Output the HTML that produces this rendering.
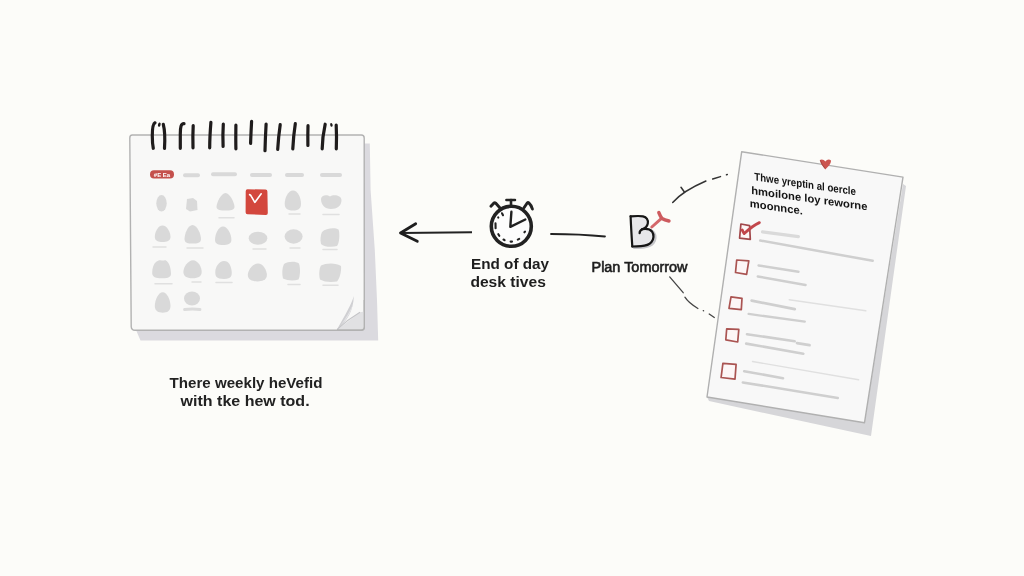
<!DOCTYPE html>
<html><head><meta charset="utf-8">
<style>
html,body{margin:0;padding:0;width:1024px;height:576px;overflow:hidden;background:#fcfcf9;}
svg{position:absolute;left:0;top:0;will-change:transform;}
text{font-family:"Liberation Sans",sans-serif;}
</style></head>
<body>
<svg width="1024" height="576" viewBox="0 0 1024 576">
<!-- ============ CALENDAR ============ -->
<g id="cal">
  <!-- shadow -->
  <polygon points="360,143.5 369.8,143.5 370.6,190 374.8,250 377,300 378.2,340.5 140.5,340.5 136,330 360,330" fill="#dbdadf"/>
  <!-- page -->
  <path d="M132.3,135 L361.3,135 Q364.2,135 364.2,138 L364.3,327.3 Q364.3,330.3 361.3,330.3 L135,330.3 Q131.3,330.3 131.2,326.5 L129.8,138 Q129.8,135 132.3,135 Z" fill="#f8f8f7" stroke="#b2b2b2" stroke-width="1.4"/>
  <!-- curl -->
  <path d="M360,312.3 L364.3,311.5 L364.3,327 Q364.3,330 361.3,330 L337,330 Z" fill="#e1e1e3"/>
  <path d="M353.8,296 C351.5,304 345,315.5 336.8,329.8 C347,321 353.5,311 353.8,296 Z" fill="#d0d0d3"/><path d="M352.6,305 C350,311 346,318 341,325 C346,320 350.5,314 352.6,305 Z" fill="#e6e6e8"/>
  <path d="M360,312.3 C352,317 344,323 337,329.6" stroke="#c4c4c7" stroke-width="1.1" fill="none"/>
  <path d="M364.3,300 L364.3,327 Q364.3,330 361.3,330 L337,330" stroke="#b2b2b2" stroke-width="1.4" fill="none"/>
  <!-- header pill -->
  <rect x="150" y="170.2" width="24" height="8.3" rx="4" fill="#c4504c"/>
  <text x="162" y="177" font-size="6" font-weight="bold" fill="#fff" text-anchor="middle">#E Ea</text>
  <g stroke="#d9d9d9" stroke-linecap="round" stroke-width="4">
    <line x1="185" y1="175.3" x2="198" y2="175.3"/>
    <line x1="213" y1="174.3" x2="235" y2="174.3"/>
    <line x1="252" y1="175" x2="270" y2="175"/>
    <line x1="287" y1="175" x2="302" y2="175"/>
    <line x1="322" y1="175" x2="340" y2="175"/>
  </g>
  <!-- blobs -->
  <g fill="#d9d9d9">
    <!-- row1 -->
    <ellipse cx="161.5" cy="203.3" rx="5.2" ry="8.3"/>
    <path d="M187,199 L193,198 L197,201 L197.5,210 L190,211.5 L186,209 Z"/>
    <path d="M225.5,193 C230,193 234.5,203 234.5,207 C234.5,210 230,210.5 225.5,210.5 C221,210.5 216.5,210 216.5,207 C216.5,203 221,193 225.5,193 Z"/>
    <path d="M293,190.5 C298,190.5 301,198 301,204 C301,209 297.5,210.5 293,210.5 C288.5,210.5 284.7,209 284.7,204 C284.7,198 288,190.5 293,190.5 Z"/>
    <path d="M321,199 C321,195 327,194 330,196.5 C333,194 341.5,195 341.5,200 C341.5,206 337,209 331,209 C325,209 321,205 321,199 Z"/>
    <!-- row2 -->
    <path d="M162.5,225.5 C167,225.5 170.5,232 170.5,237 C170.5,241 166.5,242 162.5,242 C158.5,242 154.8,241 154.8,237 C154.8,232 158,225.5 162.5,225.5 Z"/>
    <path d="M192.5,225 C197,225 201,234 201,239 C201,243 197,243.6 192.5,243.6 C188,243.6 184.5,243 184.5,239 C184.5,234 188,225 192.5,225 Z"/>
    <path d="M223,226.5 C227.5,226.5 231.4,234 231.4,240 C231.4,244 227.5,245 223,245 C218.5,245 215,244 215,240 C215,234 218.5,226.5 223,226.5 Z"/>
    <ellipse cx="258" cy="238.2" rx="9.3" ry="6.5"/>
    <ellipse cx="293.6" cy="236.5" rx="9" ry="7.2"/>
    <path d="M322,232 C326,228 335,227.5 338.5,229.5 C340,233 339.5,243 337,246 C332,247.5 324,247 321,244 C320,240 320.5,235 322,232 Z"/>
    <!-- row3 -->
    <path d="M156,262 C160,258 163,262 165,260 C170,262 171,270 171,274 C171,278 166,278.3 161.5,278.3 C156,278.3 152.2,277 152.2,273 C152.2,268 153.5,264 156,262 Z"/>
    <path d="M193,260.3 C198,260.3 201.7,267 201.7,272 C201.7,277 197,278.3 192.5,278.3 C188,278.3 183.4,277 183.4,272 C183.4,267 188,260.3 193,260.3 Z"/>
    <path d="M224,261 C229,261 231,266 231.5,270 C232.2,275 232,279 224,279 C216,279 215.3,276 215.3,272 C215.3,267 219,261 224,261 Z"/>
    <path d="M258,263.4 C263,263.4 266.9,270 266.9,275 C266.9,280 262,281.4 257.5,281.4 C253,281.4 247.8,280 247.8,275 C247.8,270 253,263.4 258,263.4 Z"/>
    <path d="M284,264 C288,261 296,261 299,263.5 C300.5,268 300.3,276 298.5,279.5 C294,281 287,280.6 283,278.5 C281.8,274 282,268 284,264 Z"/>
    <path d="M321,265.5 C326,262.5 337,262.7 341,266 C341.5,271 340,278 337,281.5 C331,282.5 324,282 320,279.5 C318.8,275 319,269 321,265.5 Z"/>
    <!-- row4 -->
    <path d="M162.7,292.3 C167,292.3 170.5,300 170.5,306 C170.5,311 167,312.7 162.7,312.7 C158.5,312.7 154.8,311 154.8,306 C154.8,300 158.5,292.3 162.7,292.3 Z"/>
    <ellipse cx="192" cy="298.5" rx="8" ry="7"/>
  </g>
  <g stroke="#e0e0e0" stroke-linecap="round" stroke-width="1.5">
    <line x1="219" y1="217.8" x2="234" y2="217.8"/>
    <line x1="289" y1="214" x2="300" y2="214"/>
    <line x1="323" y1="214.5" x2="339" y2="214.5"/>
    <line x1="153" y1="247" x2="166" y2="247"/>
    <line x1="187" y1="248" x2="203" y2="248"/>
    <line x1="253" y1="249" x2="266" y2="249"/>
    <line x1="290" y1="248" x2="300" y2="248"/>
    <line x1="323" y1="249.5" x2="337" y2="249.5"/>
    <line x1="155" y1="283.7" x2="172" y2="283.7"/>
    <line x1="192" y1="282" x2="201" y2="282"/>
    <line x1="216" y1="282.5" x2="232" y2="282.5"/>
    <line x1="288" y1="284.5" x2="300" y2="284.5"/>
    <line x1="323" y1="285.3" x2="338" y2="285.3"/>
  </g>
  <path d="M184.5,309.5 C190,308.8 195,308.8 200,309.5" stroke="#dcdcdc" stroke-width="2.8" stroke-linecap="round" fill="none"/>
  <!-- red day -->
  <path d="M247.5,189.3 L265.5,189.5 Q267.4,189.6 267.4,191.5 L267.8,213 Q267.8,215 265.8,214.9 L247.5,214.2 Q245.6,214.1 245.6,212.2 L245.7,191.2 Q245.7,189.3 247.5,189.3 Z" fill="#d3473d"/>
  <path d="M249.6,194.6 C250.5,194.8 251,195.6 251.5,196.6 L254.8,202.4 L261.2,193.8" stroke="#fff" stroke-width="1.6" fill="none" stroke-linecap="round" stroke-linejoin="round"/>
  <!-- spiral rings -->
  <g stroke="#1f1c1c" stroke-width="3.2" stroke-linecap="round" fill="none">
    <path d="M155,122.8 C152.5,124 152.3,130 152.3,136 C152.3,142 152.8,146 153.3,148.3"/>
    <path d="M163.3,124.3 C164.8,130 165,140 164.5,148.3"/>
    <path d="M184,123.6 C181,123.5 180.3,127 180.3,134 C180.3,141 180.3,145 180.3,148.3"/>
    <path d="M193.2,125.6 C192.8,133 192.8,141 193,147.8"/>
    <path d="M210.9,122.3 C210.2,131 209.7,140 209.7,147.8"/>
    <path d="M223.3,124.2 C222.8,132 222.8,140 223.1,146.3"/>
    <path d="M235.9,125.2 C235.8,133 235.7,141 235.9,148.8"/>
    <path d="M251.6,121.3 C251.2,129 250.8,136 250.6,143.4"/>
    <path d="M266.1,124.2 C265.6,133 265.2,142 265,150.7"/>
    <path d="M280.2,124.7 C279,133 278.2,141 277.7,149.3"/>
    <path d="M295.3,123.7 C294,132 293.2,141 292.8,148.8"/>
    <path d="M308,125.7 C307.8,132 307.8,139 307.9,145.4"/>
    <path d="M325.2,124.2 C323.5,132 322.3,141 322.2,148.8"/>
    <path d="M336.2,125.2 C336.6,133 336.6,141 336.3,148.8"/>
  </g>
  <g fill="#1f1c1c">
    <ellipse cx="159.3" cy="124.6" rx="1.3" ry="2.2" transform="rotate(15 159.3 124.6)"/>
    <ellipse cx="331.4" cy="124.9" rx="1.2" ry="1.9" transform="rotate(-15 331.4 124.9)"/>
  </g>
</g>

<!-- ============ CAPTION LEFT ============ -->
<text x="169.5" y="388.3" font-size="15.4" font-weight="bold" fill="#222" textLength="153" lengthAdjust="spacingAndGlyphs">There weekly heVefid</text>
<text x="180.6" y="405.7" font-size="15.4" font-weight="bold" fill="#222" textLength="129" lengthAdjust="spacingAndGlyphs">with tke hew tod.</text>

<!-- ============ ARROW ============ -->
<path d="M472,232.3 L401,233" stroke="#222" stroke-width="2" fill="none"/>
<path d="M415.7,223.7 L400.5,233 L417.3,241.3" stroke="#1e1e1e" stroke-width="2.8" fill="none" stroke-linecap="round" stroke-linejoin="round"/>

<!-- ============ STOPWATCH ============ -->
<g stroke="#222" fill="none" stroke-linecap="round">
  <circle cx="511.3" cy="226.3" r="20" stroke-width="3.6" fill="#fdfdfd"/>
  <line x1="506.4" y1="199.9" x2="515" y2="199.9" stroke-width="2.5"/>
  <line x1="511" y1="200" x2="511" y2="205" stroke-width="2.6"/>
  <path d="M499.8,207.8 L495.6,203 Q494.8,202.3 494,202.9 L490.9,206.3" stroke-width="2.9" stroke-linejoin="round"/>
  <path d="M524,207.8 L527.2,203 Q528,202.2 528.8,202.9 C530.5,204.5 531.8,206.5 532.4,209" stroke-width="2.9" stroke-linejoin="round"/>
  <path d="M511.4,211.8 L510.3,226.8 L525.3,219.5" stroke-width="2.4" stroke-linejoin="round"/>
  <g stroke-width="2.1">
    <line x1="502" y1="213.3" x2="503" y2="215.2"/>
    <line x1="495.5" y1="223.3" x2="495.6" y2="228.2"/>
    <line x1="498.3" y1="234.2" x2="499.3" y2="235.8"/>
    <line x1="503.5" y1="239.5" x2="504.6" y2="240.2"/>
    <line x1="510.6" y1="241.6" x2="512" y2="241.6"/>
    <line x1="517.8" y1="239.6" x2="519.2" y2="238.9"/>
    <line x1="524.4" y1="232.3" x2="525" y2="231.6"/>
    <line x1="498.2" y1="217.4" x2="498.3" y2="217.6"/>
  </g>
</g>
<text x="471" y="268.9" font-size="14.6" font-weight="bold" fill="#1e1e1e" textLength="78" lengthAdjust="spacingAndGlyphs">End of day</text>
<text x="470.4" y="286.5" font-size="14.6" font-weight="bold" fill="#1e1e1e" textLength="75.5" lengthAdjust="spacingAndGlyphs">desk tives</text>

<!-- connector line -->
<path d="M551,234 C570,234 590,235 605,236.5" stroke="#222" stroke-width="1.8" fill="none" stroke-linecap="round"/>

<!-- ============ B + PIN ============ -->
<path d="M643.5,229.8 C647.5,229.3 651.5,229.8 653.8,232.5 C656,235.5 655.6,240.5 653.4,243 C651.3,245.5 647.8,247 643,247.4 C640,247.6 637,247.7 634.2,247.7" stroke="#c6c6ca" stroke-width="2.6" fill="none" stroke-linecap="round"/>
<path d="M630.6,216.3 C635,216 640,215.8 643,216.3 C646.5,217 648.5,220 647.8,223.5 C647.2,226.5 645,228.3 642.5,229.2 C646,228.6 650,229 652,231.5 C654.3,234.5 653.8,239.5 651.5,242 C649.5,244.5 646,245.8 641,246.2 L632.3,246.5 Z" fill="#e7e7ea"/>
<g stroke="#161616" stroke-width="2.2" fill="none" stroke-linecap="round" stroke-linejoin="round">
<path d="M630.6,216.3 C635,216 640,215.8 643,216.3 C646.5,217 648.5,220 647.8,223.5 C647.2,226.5 645,228.3 642.5,229.2 C640.8,229.8 639.5,231 639.6,233.2"/>
<path d="M642,229.2 C646,228.6 650,229 652,231.5 C654.3,234.5 653.8,239.5 651.5,242 C649.5,244.5 646,245.8 641,246.2 C638,246.4 635,246.5 632.3,246.5"/>
<path d="M630.6,216.3 C631,226 631.6,236 632.3,246.5"/>
</g>
<path d="M651.8,227 L661.5,218.3" stroke="#d4686b" stroke-width="3" stroke-linecap="round"/>
<path d="M658.8,212.5 C660,215.5 661,217.5 662,218.5 C664,219.8 666.5,220.5 669,221" stroke="#cd5b5f" stroke-width="3.4" stroke-linecap="round" fill="none"/>
<text x="591.5" y="271.5" font-size="14" fill="#1e1e1e" stroke="#1e1e1e" stroke-width="0.6" textLength="96" lengthAdjust="spacingAndGlyphs">Plan Tomorrow</text>

<!-- dashed arcs -->
<g stroke="#333" stroke-width="1.5" fill="none" stroke-linecap="round">
  <path d="M672.7,202.5 C680,194 692,187 705.9,181"/>
  <path d="M712.7,179 L720.5,176.6"/>
  <path d="M726.5,174.7 L727.3,174.5"/>
  <path d="M681,187.3 L684.4,192"/>
</g>
<g stroke="#444" stroke-width="1.3" fill="none" stroke-linecap="round">
  <path d="M669.7,276.9 L683.2,292.7"/>
  <path d="M684.9,297.2 C688,302 692,305 697.9,308.5"/>
  <path d="M703.3,310.6 L703.6,310.8"/>
  <path d="M709.2,314 L714.3,317.5"/>
</g>

<!-- ============ CHECKLIST ============ -->
<g id="list">
  <polygon points="903,184 906,186 871,436 709,401 707,397 864.5,422.7" fill="#d6d6d9"/>
  <polygon points="741.7,151.7 903,177.1 864.5,422.7 707,397" fill="#f8f8f8" stroke="#b0b0b0" stroke-width="1.4" stroke-linejoin="round"/>
  <!-- pin heart -->
  <path d="M819.8,160 C822,158.8 824,159.8 825.4,161.6 C826.8,159.6 829,158.9 831,160.4 C831.2,164 827.6,167 825.3,169.4 C823,166.6 820.3,163.4 819.8,160 Z" fill="#cc5550"/>
  <path d="M820.3,160.3 C821.5,163.5 823,166 825,168.5" stroke="#8e3a36" stroke-width="1" fill="none" opacity="0.6"/>
  <!-- heading text -->
  <g fill="#151515" font-weight="bold" font-size="11">
    <text transform="translate(754.3 180.3) skewY(8.4)" x="0" y="0" textLength="101.6" lengthAdjust="spacingAndGlyphs">Thwe yreptin al oercle</text>
    <text transform="translate(751.2 194.1) skewY(8.0)" x="0" y="0" textLength="116.2" lengthAdjust="spacingAndGlyphs">hmoilone loy reworne</text>
    <text transform="translate(749.8 207) skewY(8.3)" x="0" y="0" textLength="53" lengthAdjust="spacingAndGlyphs">moonnce.</text>
  </g>
  <!-- checkboxes -->
  <g stroke="#aa5452" stroke-width="1.7" fill="#fdf6f6" stroke-linejoin="round">
    <path d="M740.9,224 L749.6,225.6 L750.3,239.4 L739.6,238.1 Z" stroke="#a2484b"/>
    <path d="M736.7,260 L748.8,260.8 L746.6,274.3 L735.5,272.5 Z"/>
    <path d="M731,296.8 L742,298.3 L741.3,309.6 L729,308.3 Z"/>
    <path d="M726.7,328.8 L738.8,329.4 L737.7,342 L725.8,339.8 Z"/>
    <path d="M722.9,363.3 L736.1,364.4 L735,379.2 L721.1,377.5 Z"/>
  </g>
  <path d="M742.2,230 C743,231.5 743.5,232.8 744.2,233.6 C748,230 753,225.5 759.4,222.6" stroke="#c2464b" stroke-width="2.8" fill="none" stroke-linecap="round" stroke-linejoin="round"/>
  <!-- lines -->
  <g stroke="#cfcfcf" stroke-linecap="round" fill="none">
    <path d="M762.5,231.9 L798.4,236.6" stroke-width="3.2" stroke="#dadada"/>
    <path d="M760.2,240.5 L872.7,260.8" stroke-width="2.5"/>
    <path d="M758.6,265.5 L798.4,271.7" stroke-width="2.5"/>
    <path d="M757.8,276.4 L805.5,285" stroke-width="2.5"/>
    <path d="M751.7,300.6 L794.7,309.2" stroke-width="2.8"/>
    <path d="M789.2,299.8 L865.8,310.8" stroke-width="1.4" stroke="#e0e0e0"/>
    <path d="M748.6,313.9 L804.8,321.7" stroke-width="2.3"/>
    <path d="M747,334.2 L794.7,341.2" stroke-width="2.6"/>
    <path d="M797,343.1 L809.5,345.2" stroke-width="2.8"/>
    <path d="M746.2,343.6 L803.3,353.7" stroke-width="2.6"/>
    <path d="M752.5,361.5 L858.6,379.8" stroke-width="1.4" stroke="#e0e0e0"/>
    <path d="M744.2,371.2 L783,378.2" stroke-width="2.6"/>
    <path d="M742.8,382.4 L837.8,398" stroke-width="2.5"/>
  </g>
</g>
</svg>
</body></html>
